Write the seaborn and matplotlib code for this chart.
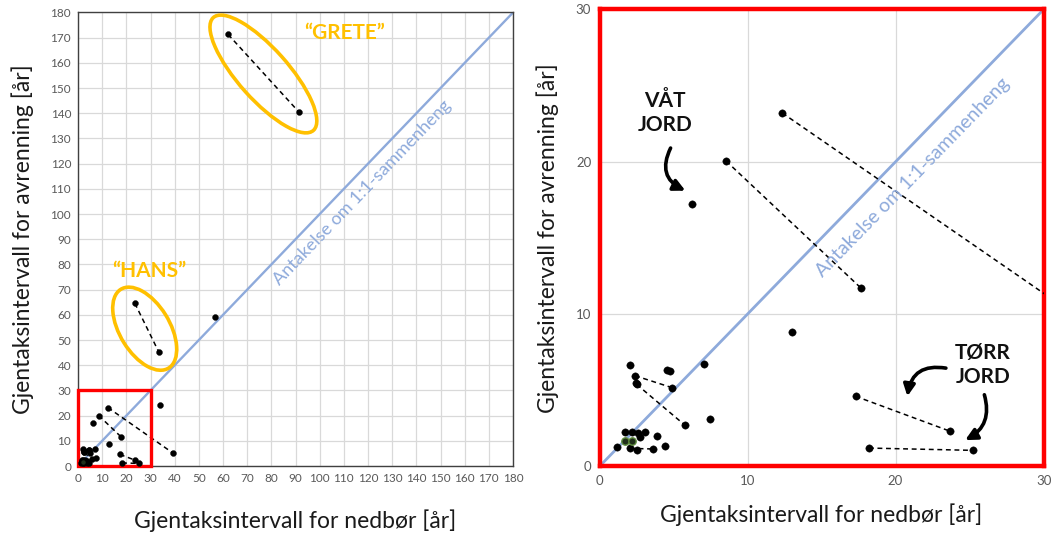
import numpy as np
import pandas as pd
import matplotlib
matplotlib.use("Agg")
import matplotlib.pyplot as plt
import seaborn as sns
from matplotlib.patches import Ellipse, Rectangle

# Return periods [years]: precipitation (x) vs. runoff (y)
# Paired events (same event, two estimates) joined by dashed lines
pair_id = [1, 1, 2, 2, 3, 3, 4, 4, 5, 5, 6, 6, 7, 7, 8, 8, 9, 9]
pair_x = [62.1, 91.5, 23.5, 33.5, 12.35, 39.2, 8.55, 17.67, 17.3, 23.7,
          18.2, 25.2, 2.40, 4.92, 2.51, 5.76, 2.06, 3.64]
pair_y = [171.3, 140.4, 64.6, 45.1, 23.2, 5.2, 20.05, 11.7, 4.6, 2.3,
          1.2, 1.05, 5.95, 5.16, 5.38, 2.71, 1.18, 1.14]

# Single events
single_x = [56.6, 33.9, 6.23, 12.99, 2.06, 4.55, 4.75, 7.08, 7.47,
            1.72, 2.18, 2.62, 3.07, 2.74, 3.86, 1.16, 2.51, 4.43, 2.45]
single_y = [59.2, 24.2, 17.2, 8.84, 6.65, 6.35, 6.28, 6.72, 3.10,
            2.27, 2.23, 2.16, 2.27, 1.95, 2.01, 1.29, 1.07, 1.33, 5.45]

# Two events marked with a green rim
green_x = [1.72, 2.22]
green_y = [1.66, 1.66]

left_ticks = list(range(0, 181, 10))
right_ticks = [0, 10, 20, 30]

xlabel = "Gjentaksintervall for nedbør [år]"
ylabel = "Gjentaksintervall for avrenning [år]"
line_label = "Antakelse om 1:1-sammenheng"

sns.set_style("white")
plt.rcParams["font.family"] = ["Lato", "DejaVu Sans"]

BLUE = "#8EAADB"
GOLD = "#FFC000"
TICK = "#595959"

pairs = pd.DataFrame({"pair": pair_id, "x": pair_x, "y": pair_y})
singles = pd.DataFrame({"x": single_x, "y": single_y})
greens = pd.DataFrame({"x": green_x, "y": green_y})
allpts = pd.concat([pairs[["x", "y"]], singles], ignore_index=True)
diag = pd.DataFrame({"x": [0, 180], "y": [0, 180]})

fig = plt.figure(figsize=(10.6, 5.41), dpi=100)
axL = fig.add_axes([0.0736, 0.1386, 0.4104, 0.8383])
axR = fig.add_axes([0.5656, 0.1380, 0.4189, 0.8445])


def draw_data(ax, size, diag_lw, rim):
    sns.lineplot(data=diag, x="x", y="y", ax=ax, color=BLUE, lw=diag_lw,
                 zorder=2)
    sns.lineplot(data=pairs, x="x", y="y", units="pair", estimator=None,
                 sort=False, ax=ax, color="black", lw=1.1,
                 dashes=False, zorder=3)
    for ln in ax.lines[1:]:
        ln.set_linestyle((0, (3.2, 2.4)))
    sns.scatterplot(data=allpts, x="x", y="y", ax=ax, color="black",
                    s=size, edgecolor="black", linewidth=0.3, zorder=4,
                    legend=False)
    sns.scatterplot(data=greens, x="x", y="y", ax=ax, color="#1f2e1a",
                    s=size, edgecolor=rim, linewidth=1.0, zorder=5,
                    legend=False)


# ---- Left panel: full range ----
draw_data(axL, 18, 1.7, "black")
axL.set_xlim(0, 180)
axL.set_ylim(0, 180)
axL.set_xticks(left_ticks)
axL.set_yticks(left_ticks)
axL.grid(True, color="#D9D9D9", lw=0.9)
axL.set_axisbelow(True)
for sp in axL.spines.values():
    sp.set_color("#404040")
    sp.set_linewidth(1.0)
axL.tick_params(axis="both", labelsize=8.5, colors=TICK, length=0, pad=5)
axL.set_xlabel(xlabel, fontsize=16.5, labelpad=18, color="#1a1a1a")
axL.set_ylabel(ylabel, fontsize=16.5, labelpad=12, color="#1a1a1a")

axL.add_patch(Rectangle((0, 0), 30, 30, fill=False, edgecolor="#FF0000",
                        lw=2.4, zorder=3.5, clip_on=False))
axL.add_patch(Ellipse((76.7, 155.6), 61, 20.5, angle=-47, fill=False,
                      edgecolor=GOLD, lw=2.6, zorder=3))
axL.add_patch(Ellipse((27.6, 54.5), 37, 20.5, angle=-57, fill=False,
                      edgecolor=GOLD, lw=2.6, zorder=3))
axL.text(110.5, 172, "\u201cGRETE\u201d", color=GOLD, fontsize=15,
         fontweight="bold", ha="center", va="center")
axL.text(29.5, 77.5, "\u201cHANS\u201d", color=GOLD, fontsize=15,
         fontweight="bold", ha="center", va="center")
axL.text(117.5, 108.5, line_label, color=BLUE, fontsize=13,
         rotation=46.2, ha="center", va="center", rotation_mode="anchor")

# ---- Right panel: zoom on 0-30 years ----
draw_data(axR, 28, 2.0, "#5c8a3c")
axR.set_xlim(0, 30)
axR.set_ylim(0, 30)
axR.set_xticks(right_ticks)
axR.set_yticks(right_ticks)
axR.grid(True, color="#D9D9D9", lw=0.9)
axR.set_axisbelow(True)
for sp in axR.spines.values():
    sp.set_color("#FF0000")
    sp.set_linewidth(3.2)
axR.tick_params(axis="both", labelsize=9.5, colors=TICK, length=0, pad=6)
axR.set_xlabel(xlabel, fontsize=16.5, labelpad=12, color="#1a1a1a")
axR.set_ylabel(ylabel, fontsize=16.5, labelpad=12, color="#1a1a1a")
axR.text(21.2, 19.0, line_label, color=BLUE, fontsize=14,
         rotation=45.8, ha="center", va="center", rotation_mode="anchor")

axR.text(4.4, 23.2, "VÅT\nJORD", fontsize=15, fontweight="bold",
         ha="center", va="center", linespacing=1.25, color="#111111")
axR.text(25.9, 6.65, "TØRR\nJORD", fontsize=15, fontweight="bold",
         ha="center", va="center", linespacing=1.25, color="#111111")

arrow_kw = dict(arrowstyle="-|>", lw=2.6, color="black", mutation_scale=17,
                shrinkA=0, shrinkB=0)
axR.annotate("", xy=(5.8, 18.1), xytext=(4.8, 20.9),
             arrowprops=dict(connectionstyle="arc3,rad=0.5", **arrow_kw))
axR.annotate("", xy=(20.8, 4.6), xytext=(23.4, 6.45),
             arrowprops=dict(connectionstyle="arc3,rad=0.5", **arrow_kw))
axR.annotate("", xy=(24.7, 1.72), xytext=(26.0, 4.7),
             arrowprops=dict(connectionstyle="arc3,rad=-0.4", **arrow_kw))

fig.savefig("out.png", dpi=100)
